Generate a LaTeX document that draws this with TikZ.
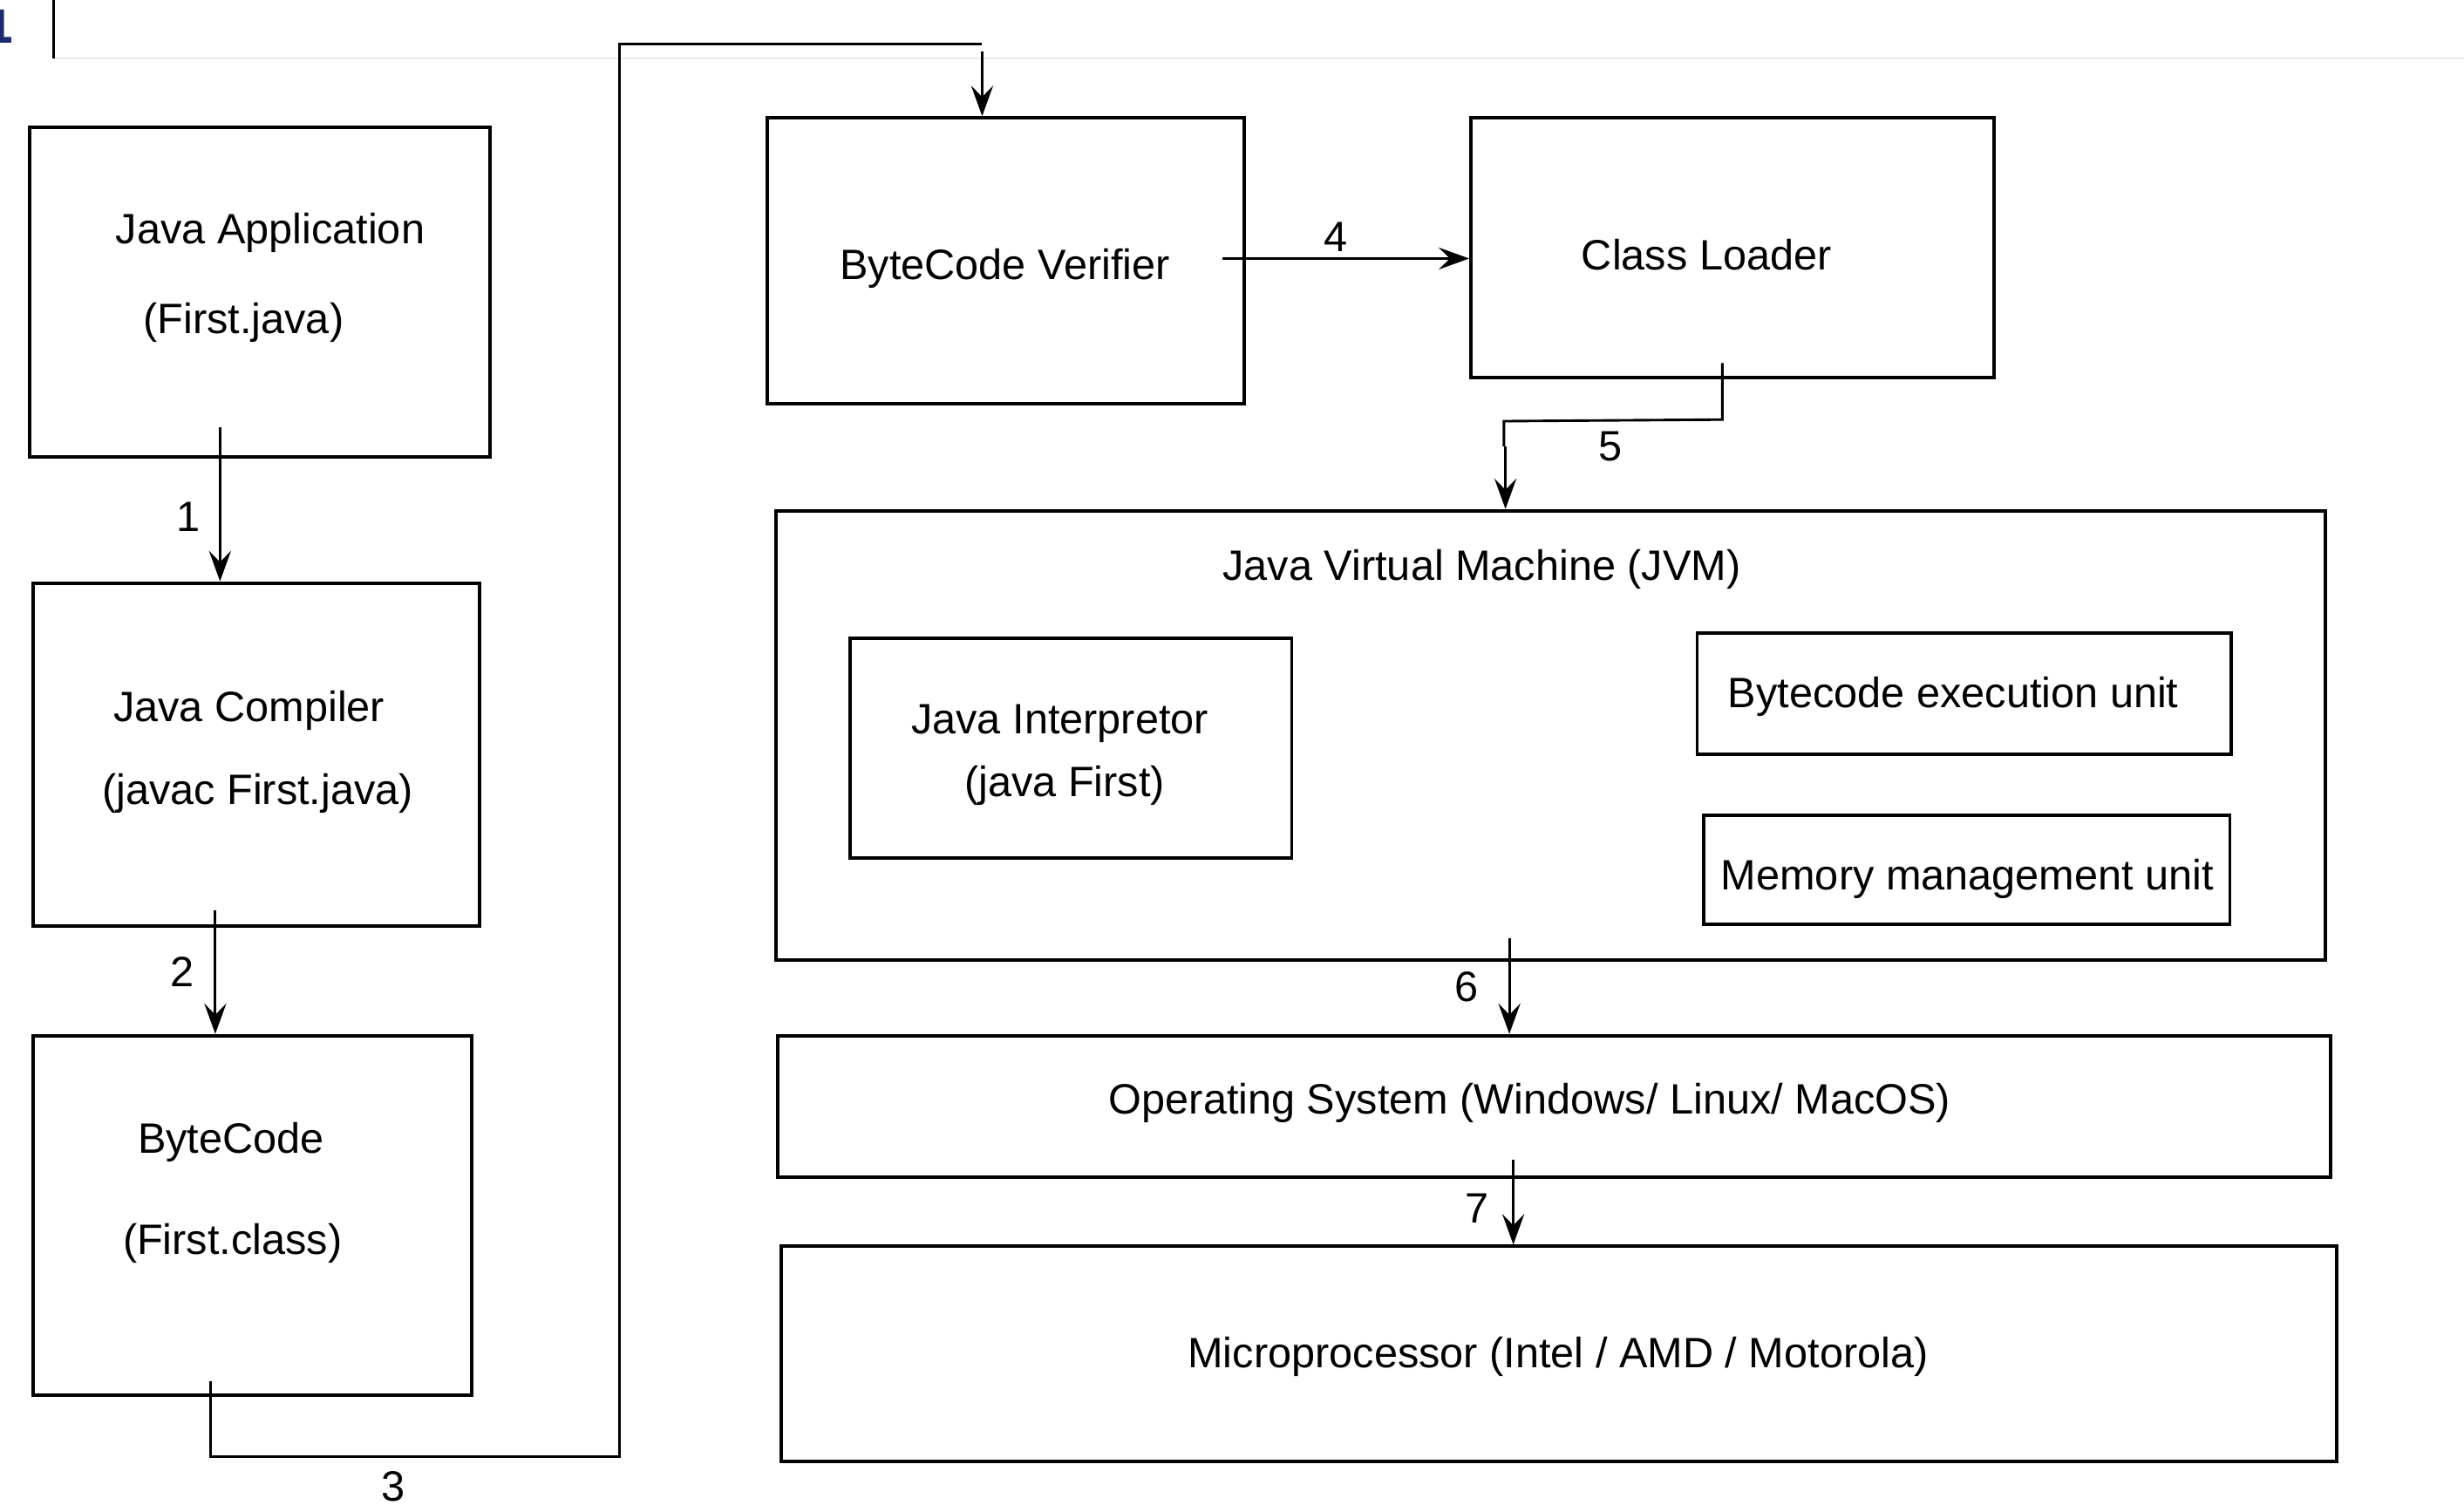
\documentclass[tikz,border=0pt]{standalone}
\usepackage{fontspec}
\setmainfont{Liberation Sans}
\newfontfamily\monof{DejaVu Sans Mono}
\usetikzlibrary{arrows.meta,fit}
\definecolor{navyline}{HTML}{1A2A6C}
\definecolor{edgegray}{HTML}{EAEAEA}
\begin{document}
\begin{tikzpicture}[x=0.5pt,y=-0.5pt,
  box/.style={draw, line width=1.1pt, inner sep=0pt},
  txt/.style={font=\fontsize{13.5}{16}\selectfont, inner sep=0pt, anchor=base},
  conn/.style={line width=0.8pt},
  arr/.style={line width=0.8pt, -{Stealth[length=9.7pt,width=7pt,inset=3.6pt]}}]
\useasboundingbox (0,0) rectangle (1568,962.1);
% editor margin
\node[font=\monof\bfseries\fontsize{14.5}{16}\selectfont, text=navyline, inner sep=0pt, anchor=base] (ln) at (0,27.4) {1};
\coordinate (gl1) at (34,0);
\coordinate (gl2) at (34,37);
\coordinate (gl3) at (1568,37);
\draw[edgegray, line width=0.6pt] (gl2) -- (gl3);
\draw[line width=0.75pt] (gl1) -- (gl2);
% boxes
\node[box, fit={(19,81) (312,291)}] (app) {};
\node[box, fit={(21,371) (305,589)}] (comp) {};
\node[box, fit={(21,659) (300,888)}] (bc) {};
\node[box, fit={(488,75) (792,257)}] (verif) {};
\node[box, fit={(936,75) (1269,240)}] (loader) {};
\node[box, fit={(494,325) (1480,611)}] (jvm) {};
\node[box, fit={(541,406) (822,546)}] (interp) {};
\node[box, fit={(1080,403) (1420,480)}] (exec) {};
\node[box, fit={(1084,519) (1419,588)}] (mem) {};
\node[box, fit={(495,659) (1483,749)}] (os) {};
\node[box, fit={(497,793) (1487,930)}] (cpu) {};
% texts
\node[txt] (appt1) at (172,155) {Java Application};
\node[txt] (appt2) at (155,212) {(First.java)};
\node[txt] (compt1) at (158.5,459) {Java Compiler};
\node[txt] (compt2) at (164,512) {(javac First.java)};
\node[txt] (bct1) at (147,734) {ByteCode};
\node[txt] (bct2) at (148,798) {(First.class)};
\node[txt] (verift) at (639.5,178) {ByteCode Verifier};
\node[txt] (loadert) at (1086,172) {Class Loader};
\node[txt] (jvmt) at (943,369) {Java Virtual Machine (JVM)};
\node[txt] (interpt1) at (674.5,467) {Java Interpretor};
\node[txt] (interpt2) at (677.5,507) {(java First)};
\node[txt] (exect) at (1243,450) {Bytecode execution unit};
\node[txt] (memt) at (1252,566) {Memory management unit};
\node[txt] (ost) at (973.5,709) {Operating System (Windows/ Linux/ MacOS)};
\node[txt] (cput) at (991.5,870) {Microprocessor (Intel / AMD / Motorola)};
% labels
\node[txt] (l1) at (120,338) {1};
\node[txt] (l2) at (116,628) {2};
\node[txt] (l3) at (250,955) {3};
\node[txt] (l4) at (850,160) {4};
\node[txt] (l5) at (1025,293) {5};
\node[txt] (l6) at (933,637) {6};
\node[txt] (l7) at (940,778) {7};
% connectors
\coordinate (c1) at (140,272);
\draw[arr] (c1) -- (c1 |- comp.north);
\coordinate (c2) at (137,579);
\draw[arr] (c2) -- (c2 |- bc.north);
\coordinate (c3) at (134,879);
\coordinate (c3a) at (134,927);
\coordinate (c3b) at (394,927);
\coordinate (c3c) at (394,28);
\coordinate (c3d) at (625,28);
\coordinate (c3e) at (625,33);
\draw[conn] (c3) -- (c3a) -- (c3b) -- (c3c) -- (c3d);
\draw[arr] (c3e) -- (c3e |- verif.north);
\coordinate (c4) at (778,164.5);
\draw[arr] (c4) -- (c4 -| loader.west);
\coordinate (c5) at (1096,231);
\coordinate (c5a) at (1096,267);
\coordinate (c5b) at (957,268);
\draw[conn] (c5) -- (c5a) -- (c5b) -- ++(0,16);
\coordinate (c5c) at (958,284);
\draw[arr] (c5c) -- (c5c |- jvm.north);
\coordinate (c6) at (960.5,597);
\draw[arr] (c6) -- (c6 |- os.north);
\coordinate (c7) at (963,738);
\draw[arr] (c7) -- (c7 |- cpu.north);
\end{tikzpicture}
\end{document}
